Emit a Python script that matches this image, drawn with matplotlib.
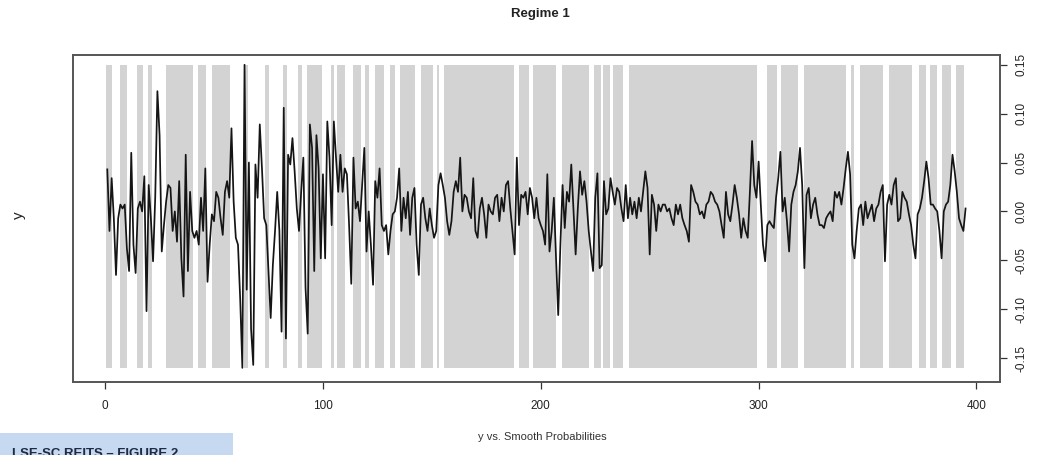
import matplotlib
matplotlib.use("Agg")
import matplotlib.pyplot as plt
from matplotlib.patches import Rectangle

y = [
    0.043, -0.020, 0.034, -0.007, -0.065, -0.007, 0.007, 0.003, 0.007, -0.038,
    -0.061, 0.060, -0.034, -0.063, 0.003, 0.010, 0.000, 0.036, -0.102, 0.027,
    -0.007, -0.051, 0.014, 0.123, 0.078, -0.041, -0.014, 0.010, 0.027, 0.024,
    -0.020, 0.000, -0.031, 0.031, -0.048, -0.087, 0.058, -0.061, 0.020, -0.020,
    -0.027, -0.020, -0.034, 0.014, -0.020, 0.044, -0.072, -0.034, -0.003, -0.010,
    0.020, 0.014, -0.007, -0.024, 0.020, 0.031, 0.014, 0.085, 0.010, -0.027,
    -0.034, -0.089, -0.160, 0.150, -0.080, 0.050, -0.120, -0.157, 0.048, 0.014,
    0.089, 0.044, -0.007, -0.014, -0.061, -0.109, -0.055, -0.020, 0.020, -0.020,
    -0.123, 0.106, -0.130, 0.058, 0.048, 0.075, 0.041, 0.003, -0.020, 0.020,
    0.055, -0.078, -0.125, 0.089, 0.065, -0.061, 0.078, 0.044, -0.048, 0.038,
    -0.048, 0.092, 0.055, -0.014, 0.092, 0.055, 0.020, 0.058, 0.020, 0.044,
    0.038, -0.014, -0.074, 0.055, 0.003, 0.010, -0.010, 0.027, 0.065, -0.041,
    0.000, -0.034, -0.075, 0.031, 0.014, 0.044, -0.014, -0.020, -0.014, -0.044,
    -0.020, -0.003, 0.000, 0.014, 0.044, -0.020, 0.014, -0.007, 0.020, -0.024,
    0.014, 0.024, -0.034, -0.065, 0.007, 0.014, -0.007, -0.020, 0.003, -0.014,
    -0.027, -0.020, 0.027, 0.039, 0.027, 0.014, -0.010, -0.024, -0.010, 0.020,
    0.031, 0.020, 0.055, 0.000, 0.017, 0.014, 0.000, -0.007, 0.034, -0.020,
    -0.027, 0.003, 0.014, -0.003, -0.027, 0.007, 0.000, -0.003, 0.014, 0.017,
    -0.010, 0.014, 0.000, 0.027, 0.031, 0.003, -0.020, -0.044, 0.055, -0.014,
    0.017, 0.014, 0.020, -0.003, 0.024, 0.014, -0.007, 0.014, -0.007, -0.014,
    -0.020, -0.034, 0.038, -0.041, -0.020, 0.014, -0.048, -0.106, -0.034, 0.027,
    -0.017, 0.020, 0.010, 0.048, 0.003, -0.044, 0.003, 0.041, 0.017, 0.031,
    0.010, -0.020, -0.041, -0.061, 0.014, 0.039, -0.058, -0.055, 0.031, -0.003,
    0.003, 0.034, 0.020, 0.007, 0.024, 0.020, 0.003, -0.010, 0.027, -0.007,
    0.014, -0.003, 0.010, -0.007, 0.014, 0.000, 0.020, 0.041, 0.024, -0.044,
    0.017, 0.007, -0.020, 0.007, 0.000, 0.007, 0.007, 0.000, 0.003, -0.007,
    -0.014, 0.007, -0.003, 0.007, -0.007, -0.014, -0.020, -0.031, 0.027, 0.020,
    0.010, 0.007, -0.003, 0.000, -0.007, 0.007, 0.010, 0.020, 0.017, 0.010,
    0.007, 0.000, -0.014, -0.027, 0.020, -0.003, -0.010, 0.007, 0.027, 0.014,
    -0.003, -0.027, -0.007, -0.020, -0.027, 0.020, 0.072, 0.027, 0.014, 0.051,
    0.007, -0.034, -0.051, -0.014, -0.010, -0.014, -0.017, 0.014, 0.034, 0.061,
    0.000, 0.014, -0.010, -0.041, 0.007, 0.020, 0.027, 0.041, 0.065, 0.027,
    -0.058, 0.017, 0.024, -0.007, 0.007, 0.014, -0.003, -0.014, -0.014, -0.017,
    -0.007, -0.003, 0.000, -0.010, 0.020, 0.014, 0.020, 0.007, 0.024, 0.044,
    0.061, 0.038, -0.034, -0.048, -0.020, 0.003, 0.007, -0.014, 0.010, -0.007,
    0.000, 0.007, -0.010, 0.003, 0.007, 0.020, 0.027, -0.051, 0.007, 0.017,
    0.007, 0.027, 0.034, -0.010, -0.007, 0.020, 0.014, 0.010, -0.003, -0.014,
    -0.034, -0.048, -0.003, 0.003, 0.014, 0.031, 0.051, 0.034, 0.007, 0.007,
    0.003, 0.000, -0.020, -0.048, 0.000, 0.007, 0.010, 0.027, 0.058, 0.041,
    0.020, -0.007, -0.014, -0.020, 0.003,
]

# shaded spans where regime 1 is the likely state
regime_start = [0.5, 6.9, 14.5, 19.7, 28.0, 42.7, 49.1, 63.8, 73.5, 81.7,
                88.6, 92.7, 103.6, 106.5, 113.8, 119.5, 124.0, 131.0, 135.4, 145.0,
                152.4, 155.7, 189.8, 196.6, 209.9, 224.6, 228.7, 233.1, 240.3, 303.7,
                310.4, 320.7, 342.3, 346.4, 359.7, 373.4, 378.5, 384.1, 390.6]
regime_end = [3.2, 9.9, 17.4, 21.3, 40.4, 46.4, 57.4, 65.7, 75.3, 83.6,
              90.5, 99.4, 105.0, 110.0, 117.6, 121.2, 128.0, 133.0, 142.2, 150.4,
              153.2, 187.5, 194.5, 207.1, 222.2, 227.5, 231.7, 237.9, 299.2, 308.4,
              318.2, 340.3, 343.8, 357.2, 370.3, 376.7, 382.1, 388.4, 394.4]

x_ticks = [0, 100, 200, 300, 400]
y_ticks = [-0.15, -0.10, -0.05, 0.00, 0.05, 0.10, 0.15]

plt.rcParams["font.family"] = ["Liberation Sans", "DejaVu Sans"]

fig = plt.figure(figsize=(10.37, 4.55), dpi=100)
ax = fig.add_axes([0.0707, 0.1615, 0.8936, 0.7176])

x = list(range(1, len(y) + 1))
lo, hi = min(y), max(y)
widths = [e - s for s, e in zip(regime_start, regime_end)]
ax.bar(regime_start, hi - lo, bottom=lo, width=widths, align="edge",
       color="#d3d3d3", linewidth=0, zorder=1)
ax.plot(x, y, color="#151515", lw=1.25, zorder=2)

ax.set_xlim(-14.6, 410.8)
ax.set_ylim(-0.174, 0.160)

ax.set_xticks(x_ticks)
ax.set_yticks(y_ticks)
ax.set_yticklabels([f"{v:.2f}" for v in y_ticks], rotation=90, va="center")
ax.yaxis.tick_right()
ax.tick_params(axis="both", direction="out", length=5, width=0.9,
               color="#333333", labelsize=8.5, labelcolor="#222222")
ax.tick_params(axis="x", pad=8)
ax.tick_params(axis="y", pad=6)
for sp in ax.spines.values():
    sp.set_color("#555555")
    sp.set_linewidth(1.4)

fig.text(0.521, 0.982, "Regime 1", ha="center", va="top",
         fontsize=9.5, fontweight="bold", color="#222222")
fig.text(0.018, 0.527, "y", rotation=90, ha="center", va="center",
         fontsize=11, color="#222222")
fig.text(0.523, 0.040, "y vs. Smooth Probabilities", ha="center", va="center",
         fontsize=8, color="#333333")

# partially cut caption box at the bottom left, as in the source figure
fig.patches.append(Rectangle((0, 0), 233 / 1037, 22 / 455, transform=fig.transFigure,
                             facecolor="#c6d9f1", edgecolor="none", zorder=0))
fig.text(12 / 1037, 7 / 455, "LSE-SC REITS \u2013 FIGURE 2", ha="left", va="top",
         fontsize=9.5, fontweight="bold", color="#1f2a44")

fig.savefig("out.png", dpi=100)
